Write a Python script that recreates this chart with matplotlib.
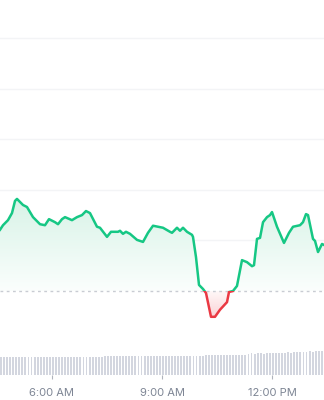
import matplotlib
matplotlib.use("Agg")
import matplotlib.pyplot as plt
import numpy as np
from matplotlib.patches import Polygon, Rectangle
from matplotlib.colors import LinearSegmentedColormap

plt.rcParams['font.family'] = ['Inter', 'DejaVu Sans']

# ---- data (hours of day, price) ----
times = [4.582, 4.664, 4.800, 4.909, 4.991, 5.045, 5.209, 5.318, 5.482, 5.673,
         5.809, 5.918, 6.082, 6.164, 6.273, 6.355, 6.545, 6.682, 6.818, 6.927,
         7.036, 7.227, 7.309, 7.500, 7.609, 7.800, 7.855, 7.936, 8.018, 8.127,
         8.318, 8.482, 8.618, 8.755, 9.027, 9.218, 9.273, 9.409, 9.491, 9.573,
         9.682, 9.818, 9.845, 9.927, 10.009, 10.118, 10.200, 10.336, 10.445, 10.582,
         10.773, 10.827, 10.936, 11.045, 11.182, 11.318, 11.455, 11.509, 11.591, 11.673,
         11.755, 11.864, 11.945, 12.000, 12.136, 12.327, 12.409, 12.464, 12.573, 12.764,
         12.845, 12.927, 12.982, 13.118, 13.173, 13.255, 13.364, 13.418]
prices = [101.21, 101.30, 101.40, 101.54, 101.78, 101.82, 101.70, 101.66, 101.46, 101.32,
          101.30, 101.42, 101.36, 101.32, 101.42, 101.46, 101.40, 101.46, 101.50, 101.58,
          101.54, 101.27, 101.25, 101.07, 101.17, 101.17, 101.19, 101.13, 101.17, 101.13,
          101.01, 100.97, 101.15, 101.29, 101.25, 101.17, 101.15, 101.25, 101.19, 101.25,
          101.17, 101.11, 101.07, 100.67, 100.12, 100.04, 99.96, 99.49, 99.49, 99.63,
          99.78, 99.98, 100.00, 100.10, 100.61, 100.57, 100.49, 100.51, 101.03, 101.05,
          101.36, 101.46, 101.50, 101.56, 101.27, 100.95, 101.07, 101.15, 101.27, 101.30,
          101.36, 101.52, 101.50, 101.03, 100.99, 100.77, 100.93, 100.91]
prev_close = 100.0
grid_levels = [101.0, 102.0, 103.0, 104.0, 105.0]

volume = [18, 18, 18.5, 18, 18, 18.5, 18, 18, 18.5, 18, 18, 18, 18.5, 18, 18, 18.5, 18, 18,
          18.5, 18, 18, 18.5, 18, 18.5, 18, 18, 18.5, 18, 18, 18, 18.5, 18, 18, 18.5, 19, 19,
          19, 19.5, 19, 19, 19, 19.5, 19, 19, 19.5, 19, 19, 19, 19.5, 19, 19, 19.5, 19, 19,
          19.5, 19, 19, 19, 19.5, 19, 19, 19.5, 19, 19, 19.5, 19, 19, 20, 20, 20.5, 20, 20,
          20.5, 20, 20, 20.5, 20, 20.5, 20, 20, 20.5, 21.5, 22, 21.5, 22, 22, 21.5, 22, 22,
          22.5, 22, 22, 22.5, 22.5, 23, 22.5, 23, 23, 23.5, 23, 23.5, 24, 23.5, 24, 24.5, 24]
vol_start = 4.583
bar_step = 5 / 60

tick_pos = [6.0, 9.0, 12.0]
tick_labels = ["6:00 AM", "9:00 AM", "12:00 PM"]

GREEN = "#16c784"
RED = "#ea3943"

W, H = 324, 400
fig = plt.figure(figsize=(W / 100, H / 100), dpi=100)
fig.patch.set_facecolor("white")

xmin, xmax = 4.582, 13.418
px_per_unit = 50.6
top_px, bot_px = 0, 340
ax = fig.add_axes([0, (H - bot_px) / H, 1, (bot_px - top_px) / H])
ylo = prev_close - (bot_px - 291) / px_per_unit
yhi = prev_close + (291 - top_px) / px_per_unit
ax.set_xlim(xmin, xmax)
ax.set_ylim(ylo, yhi)
ax.axis("off")

for g in grid_levels:
    ax.axhline(g, color="#f3f4f6", lw=1.0, zorder=1)

t = np.array(times)
p = np.array(prices)

# opaque base under the gradient so grid lines are hidden behind the area
poly_pts = np.column_stack([np.r_[t[0], t, t[-1]],
                            np.r_[prev_close, np.maximum(p, prev_close), prev_close]])
ax.add_patch(Polygon(poly_pts, closed=True, facecolor="#f5fcf9", edgecolor="none",
                     lw=0, zorder=1.5))

# gradient fills
pmax = p.max()
green_cmap = LinearSegmentedColormap.from_list("g", ["#fbfefd", "#d8f3e7"])
grad = np.linspace(0, 1, 256).reshape(-1, 1)
im = ax.imshow(grad, cmap=green_cmap, aspect="auto", origin="lower",
               extent=[xmin, xmax, prev_close, pmax], zorder=2)
poly = Polygon(poly_pts, closed=True, transform=ax.transData)
im.set_clip_path(poly)

pmin = p.min()
red_cmap = LinearSegmentedColormap.from_list("r", ["#fbd3d6", "#fff8f8"])
im2 = ax.imshow(grad, cmap=red_cmap, aspect="auto", origin="lower",
                extent=[xmin, xmax, pmin, prev_close], zorder=2)
poly2_pts = np.column_stack([np.r_[t[0], t, t[-1]],
                             np.r_[prev_close, np.minimum(p, prev_close), prev_close]])
poly2 = Polygon(poly2_pts, closed=True, transform=ax.transData)
im2.set_clip_path(poly2)

ax.axhline(prev_close, color="#c9ccd3", lw=1.0, ls=(0, (2, 2.5)), zorder=3)

lg, = ax.plot(t, p, color=GREEN, lw=1.8, zorder=4, solid_joinstyle="round")
lr, = ax.plot(t, p, color=RED, lw=1.8, zorder=4, solid_joinstyle="round")
clip_up = Rectangle((xmin, prev_close), xmax - xmin, yhi - prev_close, transform=ax.transData)
clip_dn = Rectangle((xmin, ylo), xmax - xmin, prev_close - ylo, transform=ax.transData)
lg.set_clip_path(clip_up)
lr.set_clip_path(clip_dn)

# volume axes
vtop, vbot = 343, 375
vax = fig.add_axes([0, (H - vbot) / H, 1, (vbot - vtop) / H])
vax.set_xlim(xmin, xmax)
vax.set_ylim(0, 32)
vx = vol_start + np.arange(len(volume)) * bar_step
vax.bar(vx, volume, width=bar_step * 0.62, color="#d3d6df", align="edge")
for s in ["top", "right", "left", "bottom"]:
    vax.spines[s].set_visible(False)
vax.set_yticks([])
vax.set_xticks(tick_pos)
vax.set_xticklabels(tick_labels)
vax.tick_params(axis="x", length=3, width=0.8, color="#b0b4bc",
                labelsize=8, labelcolor="#7d8594", pad=6)
vax.patch.set_alpha(0)

fig.savefig("out.png", dpi=100, facecolor="white")
